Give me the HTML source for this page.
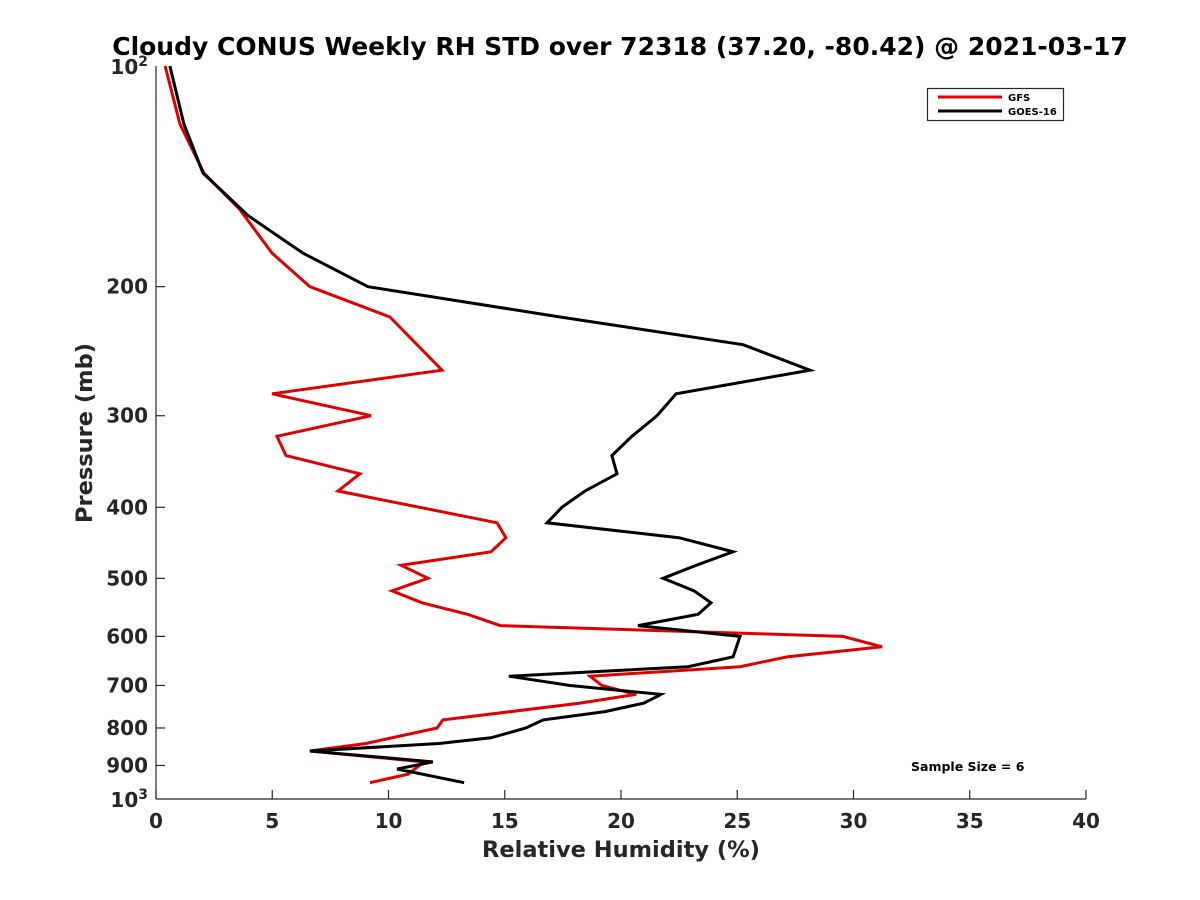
<!DOCTYPE html>
<html><head><meta charset="utf-8"><style>body{margin:0;background:#fff}svg{display:block;font-family:"DejaVu Sans","Liberation Sans",sans-serif}</style></head>
<body>
<svg id="chart" width="1200" height="900">
<rect width="1200" height="900" fill="#fff"/>
<g id="axes"></g>
<g id="series"></g>
</svg>
<script>
const xTicks=[0,5,10,15,20,25,30,35,40];
const yTicks=[200,300,400,500,600,700,800,900];
const gfsP=[100,120,140,157,180,200,220,260,280,300,320,340,360,380,420,440,460,480,500,520,540,560,580,600,620,640,660,680,700,720,740,780,800,840,860,890,925,950];
const gfsRH=[0.39,1.03,2.06,3.61,4.99,6.62,10.06,12.3,4.99,9.25,5.2,5.59,8.77,7.83,14.67,15.05,14.41,10.54,11.7,10.15,11.44,13.42,14.8,29.55,31.23,27.14,25.12,18.67,19.18,20.65,18.24,12.34,12.09,9.03,6.62,11.53,10.84,9.2];
const goesP=[100,120,140,160,180,200,220,240,260,280,300,320,340,360,380,400,420,440,460,480,500,520,540,560,580,600,640,660,680,700,720,740,760,780,800,825,840,860,890,910,950];
const goesRH=[0.6,1.2,2.02,3.96,6.32,9.12,17.38,25.25,28.13,22.37,21.55,20.47,19.61,19.83,18.45,17.46,16.82,22.49,24.82,23.23,21.81,23.14,23.87,23.31,20.73,25.12,24.82,22.88,15.18,17.81,21.72,20.99,19.31,16.65,15.91,14.41,12.17,6.62,11.91,10.37,13.25];
const X0=156,X1=1086,Y0=66,Y1=799;
const xs=v=>X0+(v/40)*(X1-X0);
const ys=p=>Y0+Math.log10(p/100)*(Y1-Y0);
const NS="http://www.w3.org/2000/svg";
function mk(t,a,parent,txt){const e=document.createElementNS(NS,t);for(const k in a)e.setAttribute(k,a[k]);if(txt!==undefined)e.textContent=txt;parent.appendChild(e);return e;}
const ax=document.getElementById('axes'),sr=document.getElementById('series');
const c='#262626';
let l=mk('line',{x1:X0,y1:Y1,x2:X1,y2:Y1,stroke:c,'stroke-width':1.2},ax);


l=mk('line',{x1:X0,y1:Y0,x2:X0,y2:Y1,stroke:c,'stroke-width':1.2},ax);


xTicks.forEach(v=>{const x=xs(v);
 let t=mk('line',{x1:x,y1:Y1,x2:x,y2:Y1-9,stroke:c,'stroke-width':1.2},ax);
 
 
 let s=mk('text',{x:x,y:Y1+29,'text-anchor':'middle','font-size':20,'font-weight':'bold',fill:c},ax,String(v));
 
 
});
yTicks.forEach(v=>{const y=ys(v);
 let t=mk('line',{x1:X0,y1:y,x2:X0+9,y2:y,stroke:c,'stroke-width':1.2},ax);
 
 
 let s=mk('text',{x:X0-8,y:y+7,'text-anchor':'end','font-size':20,'font-weight':'bold',fill:c},ax,String(v));
 
 
});
[[100,'2'],[1000,'3']].forEach(([p,e])=>{const y=ys(p);
 let s=mk('text',{x:X0-8,y:y+8,'text-anchor':'end','font-size':20,'font-weight':'bold',fill:c},ax);
 
 
 mk('tspan',{},s,'10');mk('tspan',{dy:-8,'font-size':14},s,e);
});
function line(P,R,col,name){
 const pts=P.map((p,i)=>xs(R[i]).toFixed(1)+','+ys(p).toFixed(1)).join(' ');
 const e=mk('polyline',{points:pts,fill:'none',stroke:col,'stroke-width':3,'stroke-linejoin':'miter'},sr);
 
 
}
line(gfsP,gfsRH,'#e00000','gfs-line');
line(goesP,goesRH,'#000','goes16-line');
</script>
<svg width="1200" height="900" style="position:absolute;left:0;top:0">
<text x="620" y="55" text-anchor="middle" font-size="25" font-weight="bold" fill="#000">Cloudy CONUS Weekly RH STD over 72318 (37.20, -80.42) @ 2021-03-17</text>
<text x="621" y="857" text-anchor="middle" font-size="22.5" font-weight="bold" fill="#262626">Relative Humidity (%)</text>
<text transform="translate(92,433) rotate(-90)" text-anchor="middle" font-size="22.5" font-weight="bold" fill="#262626">Pressure (mb)</text>
<g>
<rect x="927.5" y="88.5" width="136" height="32" fill="#fff" stroke="#262626" stroke-width="1.2"/>
<line x1="938" y1="97" x2="1002" y2="97" stroke="#e00000" stroke-width="3"/>
<text x="1008" y="101" font-size="10" font-weight="bold" fill="#000">GFS</text>
<line x1="938" y1="111" x2="1002" y2="111" stroke="#000" stroke-width="3"/>
<text x="1008" y="115" font-size="10" font-weight="bold" fill="#000">GOES-16</text>
</g>
<text x="911" y="771" font-size="12.5" font-weight="bold" fill="#000">Sample Size = 6</text>
</svg>
</body></html>
